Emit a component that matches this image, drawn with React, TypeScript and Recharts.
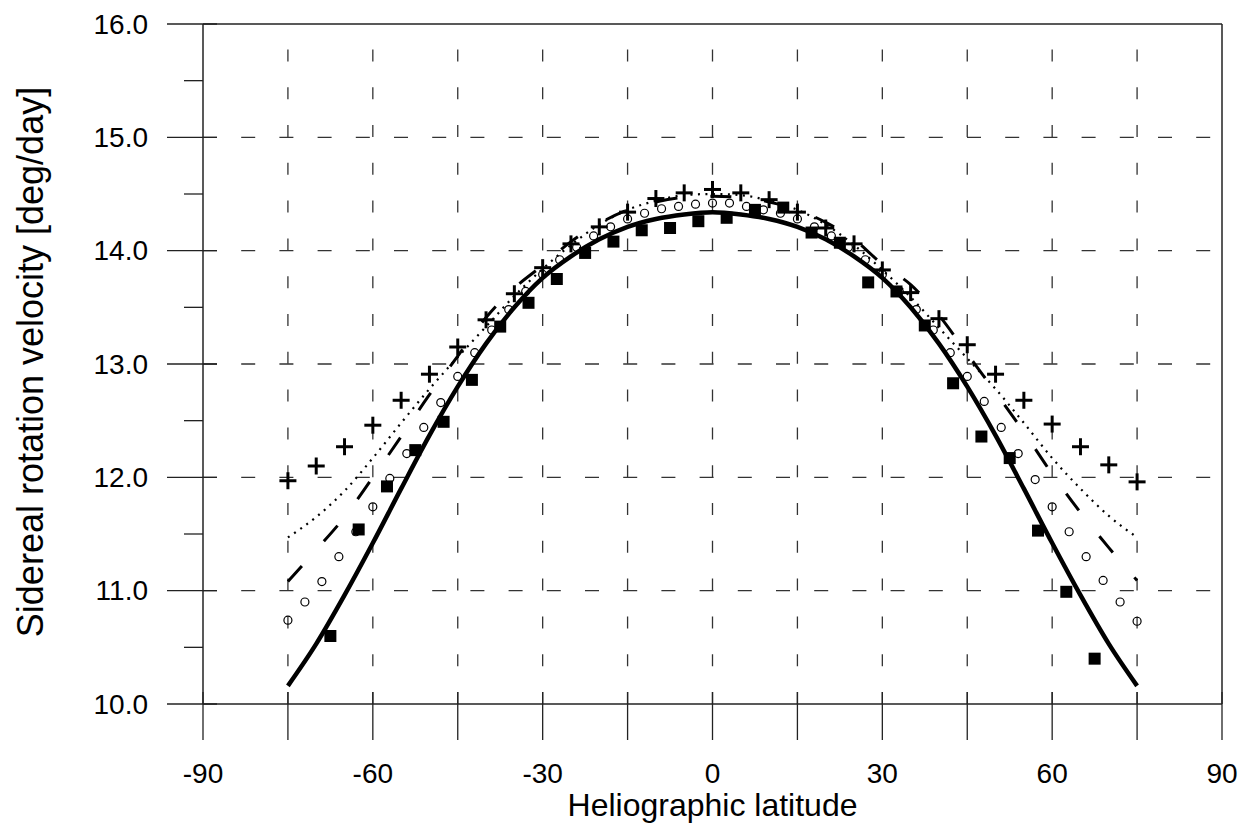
import {
  ComposedChart,
  Line,
  ReferenceLine,
  Scatter,
  XAxis,
  YAxis,
} from "recharts";

// plot box in page pixels (chart sits at 0,0)
const CHART_W = 1239;
const CHART_H = 830;
const PLOT_LEFT = 203;
const PLOT_TOP = 24;
const PLOT_W = 1019;
const PLOT_H = 680;
const FONT = "'Liberation Sans', Arial, sans-serif";

// fitted curves, every 5 degrees
const fitLat = [
  -75, -70, -65, -60, -55, -50, -45, -40, -35, -30, -25, -20, -15, -10, -5, 0,
  5, 10, 15, 20, 25, 30, 35, 40, 45, 50, 55, 60, 65, 70, 75,
];
const solidFit = [
  10.16, 10.53, 10.96, 11.42, 11.9, 12.37, 12.8, 13.18, 13.5, 13.76, 13.95,
  14.1, 14.21, 14.28, 14.32, 14.34, 14.32, 14.28, 14.21, 14.1, 13.95, 13.76,
  13.5, 13.18, 12.8, 12.37, 11.9, 11.42, 10.96, 10.53, 10.16,
];
const dashedFit = [
  11.08, 11.36, 11.65, 12.0, 12.36, 12.73, 13.07, 13.41, 13.67, 13.87, 14.08,
  14.24, 14.36, 14.43, 14.47, 14.48, 14.47, 14.43, 14.36, 14.25, 14.1, 13.88,
  13.7, 13.43, 13.09, 12.75, 12.4, 12.03, 11.69, 11.38, 11.09,
];
const dottedFit = [
  11.47, 11.65, 11.88, 12.17, 12.48, 12.78, 13.06, 13.33, 13.6, 13.84, 14.05,
  14.23, 14.36, 14.44, 14.49, 14.5, 14.49, 14.44, 14.36, 14.23, 14.05, 13.83,
  13.59, 13.32, 13.05, 12.78, 12.48, 12.17, 11.9, 11.66, 11.47,
];

// plus markers
const plusLat = fitLat;
const plusVel = [
  11.97, 12.1, 12.27, 12.46, 12.68, 12.91, 13.15, 13.39, 13.62, 13.85, 14.06,
  14.21, 14.34, 14.46, 14.51, 14.54, 14.51, 14.45, 14.34, 14.2, 14.06, 13.83,
  13.63, 13.4, 13.17, 12.91, 12.68, 12.47, 12.27, 12.11, 11.96,
];

// open circles, every 3 degrees
const circleLat = [
  -75, -72, -69, -66, -63, -60, -57, -54, -51, -48, -45, -42, -39, -36, -33,
  -30, -27, -24, -21, -18, -15, -12, -9, -6, -3, 0, 3, 6, 9, 12, 15, 18, 21, 24,
  27, 30, 33, 36, 39, 42, 45, 48, 51, 54, 57, 60, 63, 66, 69, 72, 75,
];
const circleVel = [
  10.74, 10.9, 11.08, 11.3, 11.52, 11.74, 11.99, 12.21, 12.44, 12.66, 12.89,
  13.1, 13.3, 13.48, 13.64, 13.79, 13.92, 14.03, 14.13, 14.21, 14.28, 14.33,
  14.37, 14.39, 14.41, 14.42, 14.42, 14.39, 14.36, 14.33, 14.28, 14.21, 14.13,
  14.03, 13.92, 13.79, 13.64, 13.48, 13.3, 13.1, 12.89, 12.67, 12.44, 12.21,
  11.98, 11.74, 11.52, 11.3, 11.09, 10.9, 10.73,
];

// filled squares
const squareLat = [
  -67.5, -62.5, -57.5, -52.5, -47.5, -42.5, -37.5, -32.5, -27.5, -22.5, -17.5,
  -12.5, -7.5, -2.5, 2.5, 7.5, 12.5, 17.5, 22.5, 27.5, 32.5, 37.5, 42.5, 47.5,
  52.5, 57.5, 62.5, 67.5,
];
const squareVel = [
  10.6, 11.54, 11.92, 12.24, 12.49, 12.86, 13.33, 13.54, 13.75, 13.98, 14.08,
  14.18, 14.2, 14.26, 14.29, 14.36, 14.38, 14.16, 14.07, 13.72, 13.64, 13.34,
  12.83, 12.36, 12.17, 11.53, 10.99, 10.4,
];

const xTicks = [-90, -75, -60, -45, -30, -15, 0, 15, 30, 45, 60, 75, 90];
const xLabels = [-90, -60, -30, 0, 30, 60, 90];
const yTicks = [10, 10.5, 11, 11.5, 12, 12.5, 13, 13.5, 14, 14.5, 15, 15.5, 16];
const gridLat = [-75, -60, -45, -30, -15, 0, 15, 30, 45, 60, 75];
const gridVel = [11, 12, 13, 14, 15];

const pairs = (lat: number[], v: number[]) => lat.map((x, i) => ({ lat: x, v: v[i] }));

function YTick(props: any) {
  const { y, payload } = props;
  const major = Number.isInteger(payload.value);
  if (!major) {
    return (
      <line x1={PLOT_LEFT - 19} x2={PLOT_LEFT} y1={y} y2={y} stroke="#222" strokeWidth={1.3} />
    );
  }
  return (
    <g>
      <line x1={PLOT_LEFT - 36} x2={PLOT_LEFT + 14} y1={y} y2={y} stroke="#222" strokeWidth={1.3} />
      <text
        x={PLOT_LEFT - 55}
        y={y}
        textAnchor="end"
        dominantBaseline="central"
        fontFamily={FONT}
        fontSize={28}
        fill="#000"
      >
        {payload.value.toFixed(1)}
      </text>
    </g>
  );
}

function XTick(props: any) {
  const { x, payload } = props;
  const bottom = PLOT_TOP + PLOT_H;
  return (
    <g>
      <line x1={x} x2={x} y1={bottom - 12} y2={bottom + 36} stroke="#222" strokeWidth={1.3} />
      {xLabels.includes(payload.value) && (
        <text
          x={x}
          y={bottom + 69}
          textAnchor="middle"
          dominantBaseline="central"
          fontFamily={FONT}
          fontSize={28}
          fill="#000"
        >
          {payload.value}
        </text>
      )}
    </g>
  );
}

function XTitle() {
  return (
    <text
      x={PLOT_LEFT + PLOT_W / 2}
      y={805}
      textAnchor="middle"
      dominantBaseline="central"
      fontFamily={FONT}
      fontSize={32}
      fill="#000"
    >
      Heliographic latitude
    </text>
  );
}

function YTitle() {
  const cx = 30;
  const cy = 362;
  return (
    <text
      x={cx}
      y={cy}
      transform={`rotate(-90 ${cx} ${cy})`}
      textAnchor="middle"
      dominantBaseline="central"
      fontFamily={FONT}
      fontSize={36}
      fill="#000"
    >
      Sidereal rotation velocity [deg/day]
    </text>
  );
}

const OpenCircle = (p: any) => (
  <circle cx={p.cx} cy={p.cy} r={4} fill="none" stroke="#000" strokeWidth={1.2} />
);
const FilledSquare = (p: any) => (
  <rect x={p.cx - 6} y={p.cy - 6} width={12} height={12} fill="#000" />
);
const PlusMark = (p: any) => (
  <g stroke="#000" strokeWidth={3}>
    <line x1={p.cx - 8.5} x2={p.cx + 8.5} y1={p.cy} y2={p.cy} />
    <line x1={p.cx} x2={p.cx} y1={p.cy - 8.5} y2={p.cy + 8.5} />
  </g>
);

export default function App() {
  return (
    <div style={{ position: "fixed", left: 0, top: 0, background: "#fff" }}>
      <ComposedChart
        width={CHART_W}
        height={CHART_H}
        margin={{ top: PLOT_TOP, right: CHART_W - PLOT_LEFT - PLOT_W, left: 0, bottom: CHART_H - PLOT_TOP - PLOT_H - 80 }}
      >
        <XAxis
          type="number"
          dataKey="lat"
          domain={[-90, 90]}
          ticks={xTicks}
          interval={0}
          height={80}
          tickLine={false}
          tick={<XTick />}
          axisLine={{ stroke: "#222", strokeWidth: 1.5 }}
          label={<XTitle />}
        />
        <YAxis
          type="number"
          dataKey="v"
          domain={[10, 16]}
          ticks={yTicks}
          interval={0}
          width={PLOT_LEFT}
          tickLine={false}
          tick={<YTick />}
          axisLine={{ stroke: "#222", strokeWidth: 1.5 }}
          label={<YTitle />}
        />

        {gridLat.map((g) => (
          <ReferenceLine key={`gx${g}`} x={g} stroke="#333" strokeWidth={1.3} strokeDasharray="12 25.8" />
        ))}
        {gridVel.map((g) => (
          <ReferenceLine key={`gy${g}`} y={g} stroke="#333" strokeWidth={1.3} strokeDasharray="14 24.2" />
        ))}
        <ReferenceLine y={16} stroke="#222" strokeWidth={1.5} />
        <ReferenceLine x={90} stroke="#222" strokeWidth={1.5} />

        <Line
          data={pairs(fitLat, dottedFit)}
          dataKey="v"
          type="monotone"
          stroke="#000"
          strokeWidth={2.2}
          strokeDasharray="2 5.5"
          dot={false}
          isAnimationActive={false}
        />
        <Line
          data={pairs(fitLat, dashedFit)}
          dataKey="v"
          type="monotone"
          stroke="#000"
          strokeWidth={3}
          strokeDasharray="21 33"
          dot={false}
          isAnimationActive={false}
        />
        <Line
          data={pairs(fitLat, solidFit)}
          dataKey="v"
          type="monotone"
          stroke="#000"
          strokeWidth={4.5}
          dot={false}
          isAnimationActive={false}
        />
        <Scatter data={pairs(circleLat, circleVel)} dataKey="v" shape={OpenCircle} isAnimationActive={false} />
        <Scatter data={pairs(squareLat, squareVel)} dataKey="v" shape={FilledSquare} isAnimationActive={false} />
        <Scatter data={pairs(plusLat, plusVel)} dataKey="v" shape={PlusMark} isAnimationActive={false} />
      </ComposedChart>
    </div>
  );
}
